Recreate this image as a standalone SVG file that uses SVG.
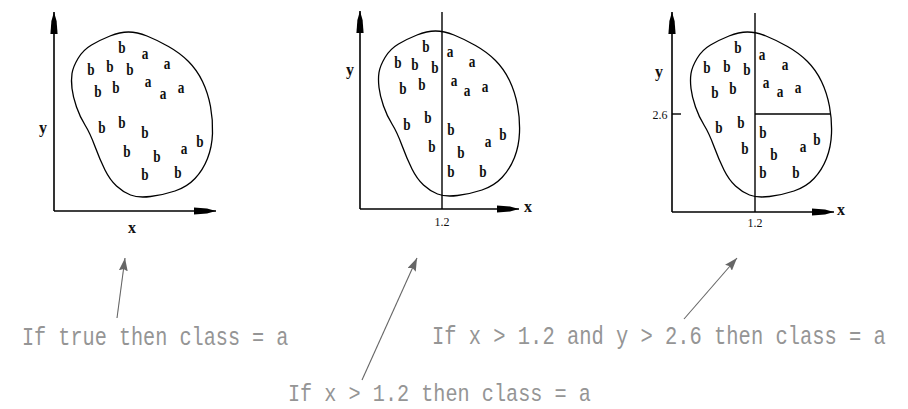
<svg xmlns="http://www.w3.org/2000/svg" width="908" height="409" viewBox="0 0 908 409">
<style>
.ax{stroke:#000;stroke-width:1.6;fill:none}
.ln{stroke:#000;stroke-width:1.4;fill:none}
.blob{stroke:#000;stroke-width:1.3;fill:none}
.p{font-family:"Liberation Serif",serif;font-weight:bold;font-size:17px;text-anchor:middle;fill:#111;transform-box:fill-box;transform-origin:center;transform:scaleX(0.78)}
.lab{font-family:"Liberation Serif",serif;font-weight:bold;font-size:16px;text-anchor:middle;fill:#111}
.num{font-family:"Liberation Serif",serif;font-size:12px;text-anchor:middle;fill:#111}
.rule{font-family:"Liberation Mono",monospace;font-size:20.2px;fill:#959595}
.ga{stroke:#666;stroke-width:1.1;fill:none}
</style>
<defs>
<marker id="axh" viewBox="-23 -5 24 10" markerWidth="24" markerHeight="10" refX="0" refY="0" orient="auto" markerUnits="userSpaceOnUse">
<path d="M0,0 L-9,-2.6 L-22,-3.6 L-22,3.6 L-9,2.6 Z" fill="#000"/>
</marker>
<marker id="gah" viewBox="0 0 14 9" markerWidth="14" markerHeight="9" refX="13" refY="4.5" orient="auto" markerUnits="userSpaceOnUse">
<path d="M0,0 L13,4.5 L0,9 L2,4.5 Z" fill="#666"/>
</marker>
<path id="blob" d="M128.5,32 Q137,32 147,36 Q157,40 168.5,46.5 Q180,53 188.5,61.5 Q197,70 202.5,81.5 Q208,93 210.5,106.5 Q213,120 212.5,133.5 Q212,147 207.5,158.5 Q203,170 195,178.5 Q187,187 175,191 Q163,195 150.5,196.5 Q138,198 130.5,195 Q123,192 116.5,186 Q110,180 105,170 Q100,160 95,146.5 Q90,133 85,125 Q80,117 76.5,107 Q73,97 72,88.5 Q71,80 72,73.5 Q73,67 78,58.5 Q83,50 91.5,45 Q100,40 110,36 Q120,32 128.5,32 Z"/>
</defs>

<g id="panel1">
<line class="ax" x1="54" y1="211" x2="54" y2="12" marker-end="url(#axh)"/>
<line class="ax" x1="54" y1="211" x2="216" y2="211" marker-end="url(#axh)"/>
<use href="#blob" class="blob"/>
<text class="lab" x="43" y="133">y</text>
<text class="lab" x="132" y="233">x</text>
<text class="p" x="122" y="53">b</text>
<text class="p" x="145" y="59">a</text>
<text class="p" x="91" y="75">b</text>
<text class="p" x="110" y="72">b</text>
<text class="p" x="130" y="75">b</text>
<text class="p" x="167" y="69">a</text>
<text class="p" x="148" y="87">a</text>
<text class="p" x="98" y="97">b</text>
<text class="p" x="116" y="93">b</text>
<text class="p" x="163" y="99">a</text>
<text class="p" x="181" y="93">a</text>
<text class="p" x="102" y="133">b</text>
<text class="p" x="122" y="128">b</text>
<text class="p" x="145" y="138">b</text>
<text class="p" x="127" y="157">b</text>
<text class="p" x="157" y="162">b</text>
<text class="p" x="184" y="154">a</text>
<text class="p" x="200" y="147">b</text>
<text class="p" x="145" y="180">b</text>
<text class="p" x="178" y="178">b</text>
</g>

<g id="panel2">
<line class="ax" x1="360" y1="209" x2="360" y2="11" marker-end="url(#axh)"/>
<line class="ax" x1="360" y1="209" x2="519" y2="209" marker-end="url(#axh)"/>
<use href="#blob" class="blob" transform="translate(307,-1)"/>
<line class="ln" x1="442" y1="12" x2="442" y2="209"/>
<text class="lab" x="350" y="75">y</text>
<text class="lab" x="528" y="212">x</text>
<text class="num" x="442" y="226">1.2</text>
<text class="p" x="426" y="52">b</text>
<text class="p" x="450" y="57">a</text>
<text class="p" x="398" y="68">b</text>
<text class="p" x="415" y="70">b</text>
<text class="p" x="435" y="73">b</text>
<text class="p" x="472" y="67">a</text>
<text class="p" x="454" y="86">a</text>
<text class="p" x="403" y="94">b</text>
<text class="p" x="422" y="90">b</text>
<text class="p" x="467" y="96">a</text>
<text class="p" x="485" y="92">a</text>
<text class="p" x="407" y="130">b</text>
<text class="p" x="428" y="123">b</text>
<text class="p" x="451" y="135">b</text>
<text class="p" x="432" y="152">b</text>
<text class="p" x="461" y="158">b</text>
<text class="p" x="488" y="147">a</text>
<text class="p" x="503" y="140">b</text>
<text class="p" x="451" y="177">b</text>
<text class="p" x="483" y="177">b</text>
</g>

<g id="panel3">
<line class="ax" x1="672" y1="212" x2="672" y2="12" marker-end="url(#axh)"/>
<line class="ax" x1="672" y1="212" x2="834" y2="212" marker-end="url(#axh)"/>
<use href="#blob" class="blob" transform="translate(619,0)"/>
<line class="ln" x1="755" y1="13" x2="755" y2="212"/>
<line class="ln" x1="755" y1="114" x2="831" y2="114"/>
<line class="ln" x1="672" y1="114" x2="681" y2="114"/>
<text class="lab" x="659" y="77">y</text>
<text class="lab" x="841" y="215">x</text>
<text class="num" x="660" y="119">2.6</text>
<text class="num" x="755" y="227">1.2</text>
<text class="p" x="738" y="53">b</text>
<text class="p" x="762" y="60">a</text>
<text class="p" x="707" y="73">b</text>
<text class="p" x="727" y="72">b</text>
<text class="p" x="747" y="75">b</text>
<text class="p" x="785" y="70">a</text>
<text class="p" x="766" y="88">a</text>
<text class="p" x="715" y="98">b</text>
<text class="p" x="733" y="94">b</text>
<text class="p" x="780" y="97">a</text>
<text class="p" x="798" y="93">a</text>
<text class="p" x="719" y="133">b</text>
<text class="p" x="741" y="128">b</text>
<text class="p" x="763" y="138">b</text>
<text class="p" x="745" y="154">b</text>
<text class="p" x="774" y="160">b</text>
<text class="p" x="803" y="152">a</text>
<text class="p" x="817" y="145">b</text>
<text class="p" x="763" y="178">b</text>
<text class="p" x="796" y="178">b</text>
</g>

<g id="rule1" transform="translate(22,345) scale(1,1.3)"><text class="rule" x="0" y="0">If true then class = a</text></g>
<g id="rule2" transform="translate(288,401) scale(1,1.2)"><text class="rule" x="0" y="0">If x &gt; 1.2 then class = a</text></g>
<g id="rule3" transform="translate(432,344) scale(1,1.3)"><text class="rule" x="0" y="0" style="font-size:20.45px">If x &gt; 1.2 and y &gt; 2.6 then class = a</text></g>

<g id="connectors">
<line class="ga" x1="117" y1="318" x2="125" y2="258" marker-end="url(#gah)"/>
<line class="ga" x1="362" y1="380" x2="417" y2="258" marker-end="url(#gah)"/>
<line class="ga" x1="684" y1="319" x2="737" y2="258" marker-end="url(#gah)"/>
</g>
</svg>
